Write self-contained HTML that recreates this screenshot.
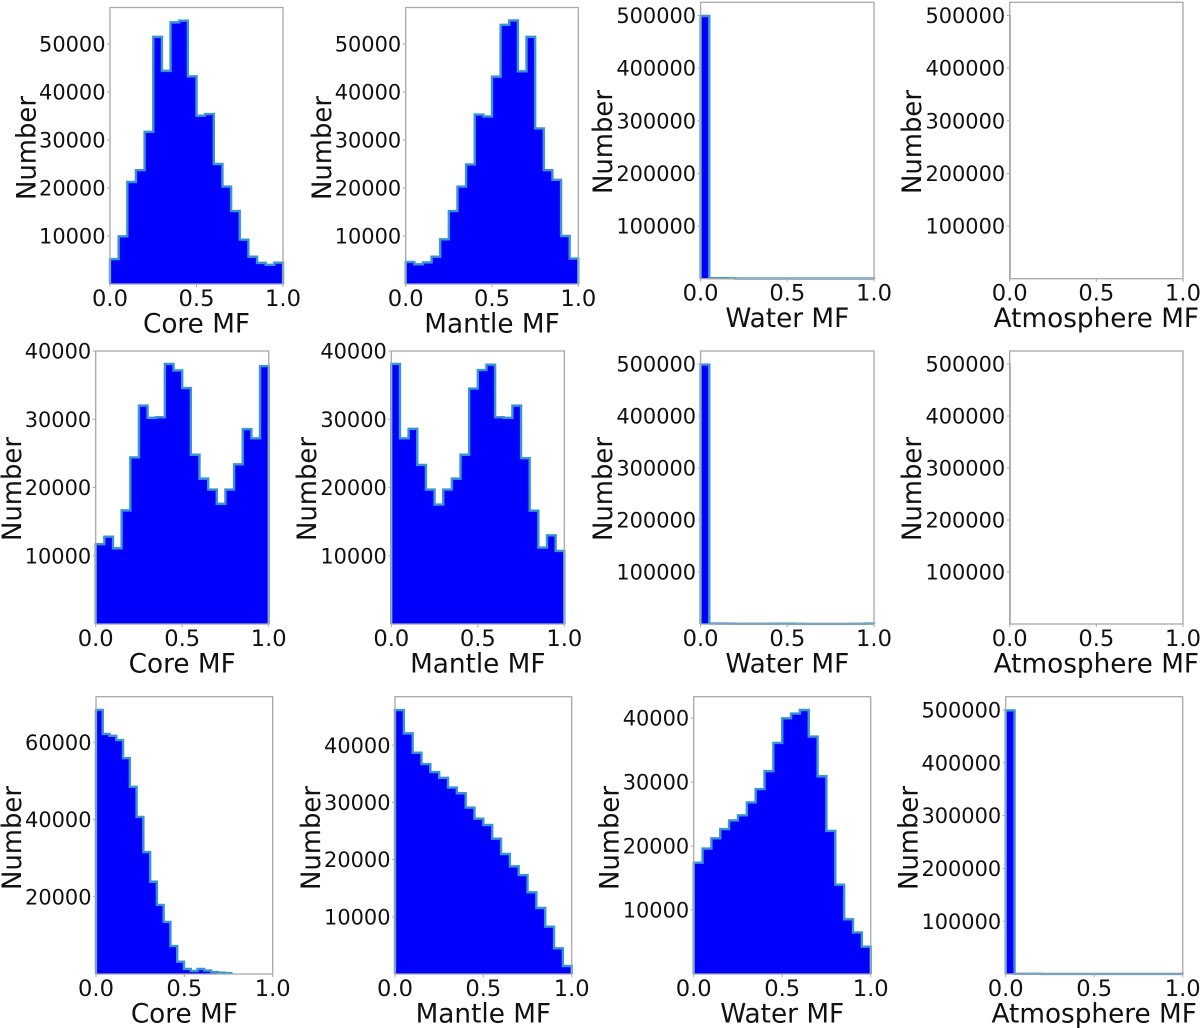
<!DOCTYPE html>
<html lang="en">
<head>
<meta charset="utf-8">
<title>Mass fraction histograms</title>
<style>
html,body{margin:0;padding:0;background:#fff;width:1200px;height:1028px;overflow:hidden}
#chart{display:block;filter:blur(0.35px)}
text{font-family:"DejaVu Sans","Liberation Sans",sans-serif;fill:#111}
.x-tick-text{font-size:22.6px}
.y-tick-text{font-size:20.9px}
.x-title-text{font-size:26.3px}
.y-title-text{font-size:27px}
</style>
</head>
<body>
<svg id="chart" xmlns="http://www.w3.org/2000/svg" width="1200" height="1028" viewBox="0 0 1200 1028"></svg>
<script>
// ---------- tick values ----------
const xTickValues = [0, 0.5, 1];
const xTickLabels = ["0.0", "0.5", "1.0"];
const ticks10k4 = [10000, 20000, 30000, 40000];
const ticks10k5 = [10000, 20000, 30000, 40000, 50000];
const ticks20k3 = [20000, 40000, 60000];
const ticks100k = [100000, 200000, 300000, 400000, 500000];

// ---------- series values (counts per bin) ----------
const coreRow1 = [5200, 9930, 21250, 23700, 31700, 51500, 44400, 54500, 54850, 43260, 35070, 35400, 25000, 20300, 15200, 9240, 5700, 4400, 4000, 4450];
const mantleRow1 = [4600, 4100, 4500, 5700, 9300, 15200, 20300, 24900, 35300, 34900, 43200, 54000, 54900, 44300, 51500, 32400, 23700, 21700, 10000, 5300];
const waterRow1 = [499000, 900, 900, 800, 300, 200, 200, 200, 200, 200, 200, 200, 200, 200, 200, 200, 200, 200, 200, 200];
const atmosphereRow1 = [500000];

const coreRow2 = [11700, 12800, 11100, 16650, 24400, 32000, 30200, 30300, 38100, 37150, 34570, 24800, 21300, 19700, 17600, 19700, 23400, 28560, 27200, 37800];
const mantleRow2 = [38100, 27200, 28600, 23300, 19700, 17500, 19700, 21300, 24800, 34500, 37200, 38000, 30300, 30200, 32000, 24300, 16600, 11200, 13000, 10700];
const waterRow2 = [499000, 800, 700, 600, 400, 300, 300, 300, 500, 600, 500, 300, 200, 200, 200, 200, 200, 300, 300, 700];
const atmosphereRow2 = [500000];

const coreRow3 = [68400, 62200, 61700, 60600, 55900, 48500, 40700, 31600, 23900, 17900, 13500, 7250, 3200, 1300, 800, 1300, 900, 500, 350, 200];
const mantleRow3 = [46150, 42070, 38700, 36700, 35300, 34300, 32600, 31600, 29100, 27150, 26050, 23660, 20980, 18820, 17300, 14280, 11540, 8270, 4490, 1400];
const waterRow3 = [17400, 19600, 21200, 22650, 24000, 24800, 26800, 28900, 31700, 36100, 39950, 40700, 41250, 37100, 30900, 22350, 13960, 8540, 6500, 4270];
const atmosphereRow3 = [499000, 400, 300, 300, 200, 200, 200, 200, 200, 200, 200, 200, 200, 200, 200, 200, 200, 200, 200, 200];

// ---------- panel definitions ----------
const panels = [
  {id:"core-row-1", xTitle:"Core MF", values:coreRow1, binWidth:0.05, yMax:57600, yTicks:ticks10k5, left:110, right:283, top:7.5, bottom:284, titleX:35.5, titleY:148},
  {id:"mantle-row-1", xTitle:"Mantle MF", values:mantleRow1, binWidth:0.05, yMax:57600, yTicks:ticks10k5, left:405.7, right:578.3, top:7.5, bottom:284, titleX:331, titleY:148},
  {id:"water-row-1", xTitle:"Water MF", values:waterRow1, binWidth:0.05, yMax:525000, yTicks:ticks100k, left:700.6, right:874, top:2.3, bottom:278.7, titleX:612, titleY:142},
  {id:"atmosphere-row-1", xTitle:"Atmosphere MF", values:atmosphereRow1, binWidth:0.002, thin:true, yMax:525000, yTicks:ticks100k, left:1009.7, right:1183, top:2.3, bottom:278.7, titleX:921, titleY:142},

  {id:"core-row-2", xTitle:"Core MF", values:coreRow2, binWidth:0.05, yMax:40000, yTicks:ticks10k4, left:95.7, right:268.7, top:351, bottom:624, titleX:21, titleY:489},
  {id:"mantle-row-2", xTitle:"Mantle MF", values:mantleRow2, binWidth:0.05, yMax:40000, yTicks:ticks10k4, left:391.3, right:564.3, top:351, bottom:624, titleX:316, titleY:489},
  {id:"water-row-2", xTitle:"Water MF", values:waterRow2, binWidth:0.05, yMax:525000, yTicks:ticks100k, left:700.6, right:874, top:351, bottom:624, titleX:612, titleY:489},
  {id:"atmosphere-row-2", xTitle:"Atmosphere MF", values:atmosphereRow2, binWidth:0.002, thin:true, yMax:525000, yTicks:ticks100k, left:1009.7, right:1183, top:351, bottom:624, titleX:921, titleY:489},

  {id:"core-row-3", xTitle:"Core MF", values:coreRow3, binWidth:0.0383, yMax:71840, yTicks:ticks20k3, left:96, right:272.7, top:696.7, bottom:974, titleX:21, titleY:838},
  {id:"mantle-row-3", xTitle:"Mantle MF", values:mantleRow3, binWidth:0.05, yMax:48480, yTicks:ticks10k4, left:395, right:571.7, top:696.7, bottom:974, titleX:320, titleY:838},
  {id:"water-row-3", xTitle:"Water MF", values:waterRow3, binWidth:0.05, yMax:43330, yTicks:ticks10k4, left:693.7, right:870.7, top:696.7, bottom:974, titleX:618.3, titleY:838},
  {id:"atmosphere-row-3", xTitle:"Atmosphere MF", values:atmosphereRow3, binWidth:0.05, yMax:525000, yTicks:ticks100k, left:1005.7, right:1182.7, top:696.7, bottom:974, titleX:917.7, titleY:838}
];

const SVG_NS = "http://www.w3.org/2000/svg";
const SPINE = "#a8a8a8";
const chart = document.getElementById("chart");

function make(tag, parent, props) {
  const el = document.createElementNS(SVG_NS, tag);
  for (const key in props) el.setAttribute(key, props[key]);
  parent.appendChild(el);
  return el;
}

function drawPanel(p) {
  const xScale = v => p.left + (p.right - p.left) * v;
  const yScale = v => p.bottom - (p.bottom - p.top) * (v / p.yMax);

  const g = make("g", chart, {});
  
  

  // build step outline from bins
  let d = "M" + xScale(0) + " " + yScale(0);
  p.values.forEach((count, i) => {
    d += "L" + xScale(i * p.binWidth) + " " + yScale(count);
    d += "L" + xScale((i + 1) * p.binWidth) + " " + yScale(count);
  });
  const lastX = xScale(p.values.length * p.binWidth);
  d += "L" + lastX + " " + yScale(0);

  const fill = make("path", g, {d: d + "Z", fill: p.thin ? "none" : "#0000ff", stroke: "none"});
  
  

  const step = make("path", g, {
    d: d,
    fill: "none",
    stroke: p.thin ? "#7f9cc4" : "#3a94d2",
    "stroke-width": p.thin ? 1.4 : 2.4,
    "stroke-linejoin": "miter"
  });
  
  

  const frame = make("rect", g, {
    x: p.left, y: p.top,
    width: p.right - p.left, height: p.bottom - p.top,
    fill: "none", stroke: SPINE, "stroke-width": 1.3
  });
  
  

  xTickValues.forEach((v, i) => {
    const tx = xScale(v);
    const mark = make("line", g, {x1: tx, x2: tx, y1: p.bottom, y2: p.bottom + 3, stroke: SPINE, "stroke-width": 1});
    
    
    const label = make("text", g, {x: tx, y: p.bottom + 22, "text-anchor": "middle", class: "x-tick-text"});
    label.textContent = xTickLabels[i];
    
    
  });

  p.yTicks.forEach(v => {
    const ty = yScale(v);
    const mark = make("line", g, {x1: p.left - 3, x2: p.left, y1: ty, y2: ty, stroke: SPINE, "stroke-width": 1});
    
    
    const label = make("text", g, {x: p.left - 4.5, y: ty + 7.6, "text-anchor": "end", class: "y-tick-text"});
    label.textContent = String(v);
    
    
  });

  const xTitle = make("text", g, {x: (p.left + p.right) / 2, y: p.bottom + 48.5, "text-anchor": "middle", class: "x-title-text"});
  xTitle.textContent = p.xTitle;
  
  

  const yTitle = make("text", g, {
    x: p.titleX, y: p.titleY, "text-anchor": "middle", class: "y-title-text",
    textLength: 104, lengthAdjust: "spacingAndGlyphs",
    transform: "rotate(-90 " + p.titleX + " " + p.titleY + ")"
  });
  yTitle.textContent = "Number";
  
  
}

panels.forEach(drawPanel);
</script>
</body>
</html>
